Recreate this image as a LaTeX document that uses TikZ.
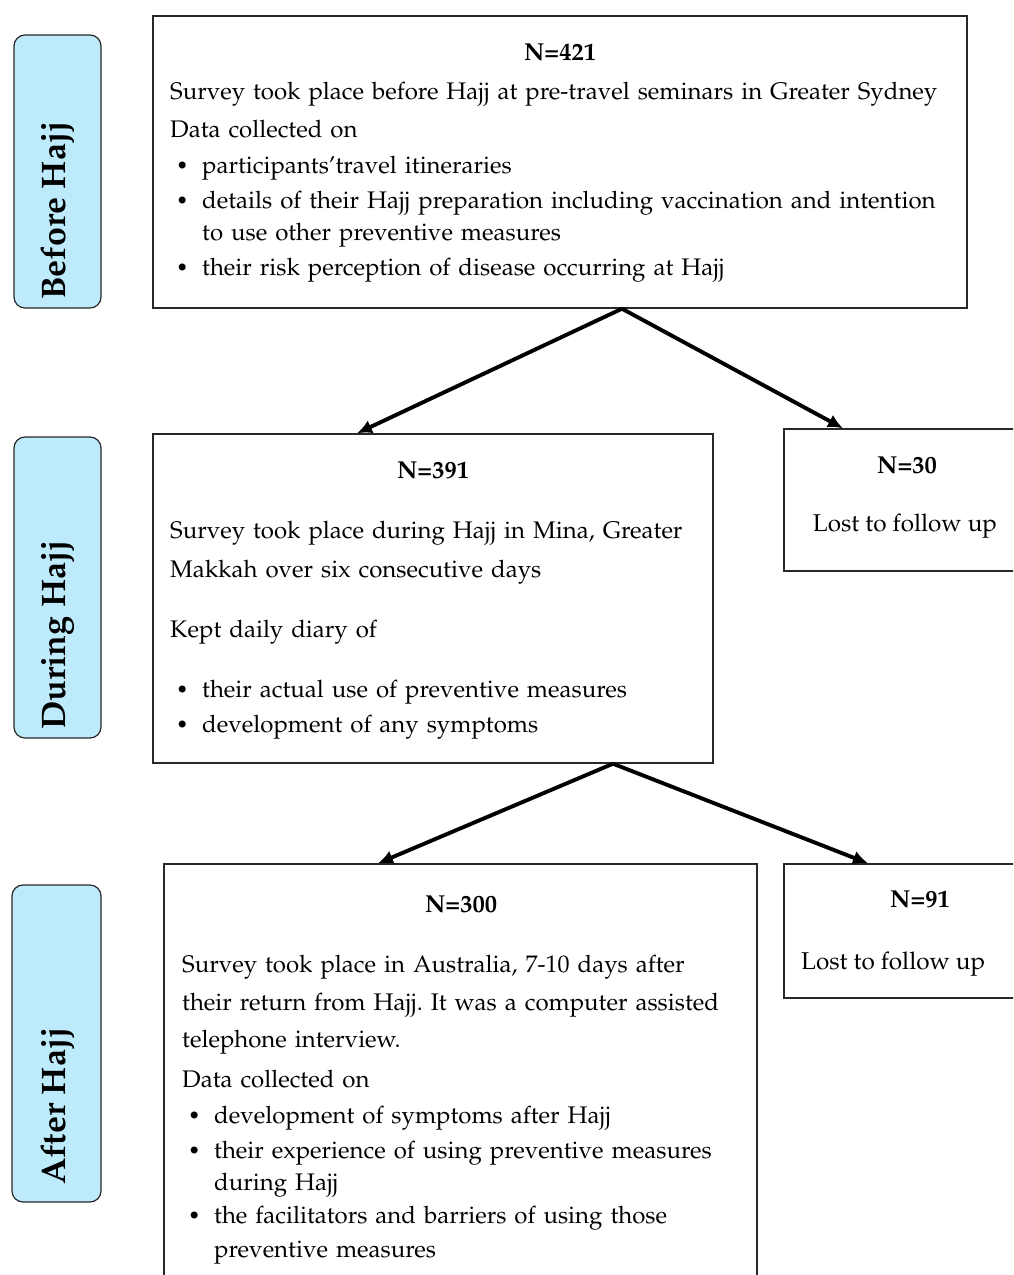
\documentclass[tikz,border=0pt]{standalone}
\usepackage[T1]{fontenc}
\usepackage{mathpazo}
\usepackage{textcomp}
\usepackage{graphicx}
\usetikzlibrary{arrows.meta}
\definecolor{lblblue}{RGB}{189,235,252}
\definecolor{lineg}{RGB}{40,40,40}
\newcommand\bul{\hspace*{6pt}\makebox[26pt][l]{\raisebox{1pt}{\scalebox{0.85}{\textbullet}}}}
\newcommand\ind{\hspace*{32pt}}
\frenchspacing
\begin{document}
\begin{tikzpicture}[x=1pt,y=-1pt,
  box/.style={draw=lineg, line width=1.4pt, rectangle, inner sep=0pt},
  lbl/.style={draw=lineg, line width=1.2pt, fill=lblblue, rounded corners=11pt, inner sep=0pt, minimum width=87pt},
  lbltext/.style={rotate=90, anchor=base west, inner sep=0pt, font=\fontsize{34}{40}\selectfont\bfseries},
  body/.style={anchor=base west, inner sep=0pt, align=left, text width=#1, font=\fontsize{24}{34}\selectfont},
  body/.default=800pt,
  head/.style={anchor=base, inner sep=0pt, font=\fontsize{24.5}{34}\selectfont\bfseries},
  plain/.style={inner sep=0pt, font=\fontsize{24.3}{34}\selectfont},
  arr/.style={-{Latex[length=15pt,width=14pt]}, line width=3.9pt, black}
]
\clip (0,0) rectangle (1013,1275);
\fill[white] (0,0) rectangle (1013,1275);

% phase labels
\node[lbl, minimum height=273pt] (l1) at (57.5,171.5) {};
\node[lbltext] (t1) at (65,300) {Before Hajj};
\node[lbl, minimum height=301pt] (l2) at (57.5,587.5) {};
\node[lbltext] (t2) at (65,730) {During Hajj};
\node[lbl, minimum width=89pt, minimum height=317pt] (l3) at (56.5,1043.5) {};
\node[lbltext] (t3) at (65,1185) {After Hajj};

% boxes
\node[box, minimum width=814pt, minimum height=292pt] (b1) at (560,162) {};
\node[box, minimum width=560pt, minimum height=329pt] (b2) at (433,598.5) {};
\node[box, minimum width=246pt, minimum height=142pt] (n30) at (907,500) {};
\node[box, minimum width=272pt, minimum height=134pt] (n91) at (920,931) {};
\node[box, minimum width=593pt, minimum height=436pt] (b3) at (460.5,1082) {};

% box 1 text
\node[head] (h1) at (560,60) {N=421};
\node[body] (x1) at (170,99) {Survey took place before Hajj at pre-travel seminars in Greater Sydney\\[4pt]
Data collected on\\[2pt]
\bul participants'travel itineraries\\[1pt]
\bul details of their Hajj preparation including vaccination and intention\\[-2pt]
\ind to use other preventive measures\\[1pt]
\bul their risk perception of disease occurring at Hajj};

% box 2 text
\node[head] (h2) at (433,478) {N=391};
\node[body=540pt] (x2) at (170,538) {Survey took place during Hajj in Mina, Greater\\[5pt]
Makkah over six consecutive days\\[26pt]
Kept daily diary of\\[26pt]
\bul their actual use of preventive measures\\[1pt]
\bul development of any symptoms};

% lost boxes
\node[head] (h30) at (907,473) {N=30};
\node[plain, anchor=base] (x30) at (905,531) {Lost to follow up};
\node[head] (h91) at (920,907) {N=91};
\node[plain, anchor=base west] (x91) at (801,969) {Lost to follow up};

% box 3 text
\node[head] (h3) at (461,912) {N=300};
\node[body=570pt] (x3) at (182,972) {Survey took place in Australia, 7-10 days after\\[4pt]
their return from Hajj. It was a computer assisted\\[3pt]
telephone interview.\\[6pt]
Data collected on\\[2pt]
\bul development of symptoms after Hajj\\[1pt]
\bul their experience of using preventive measures\\[-2pt]
\ind during Hajj\\[-1pt]
\bul the facilitators and barriers of using those\\[0pt]
\ind preventive measures};

% arrows
\draw[arr] ([xshift=62pt]b1.south) -- ([xshift=-76pt]b2.north);
\draw[arr] ([xshift=62pt]b1.south) -- ([xshift=-64pt]n30.north);
\draw[arr] ([xshift=180pt]b2.south) -- ([xshift=-82.5pt]b3.north);
\draw[arr] ([xshift=180pt]b2.south) -- ([xshift=-52pt]n91.north);
\end{tikzpicture}
\end{document}
